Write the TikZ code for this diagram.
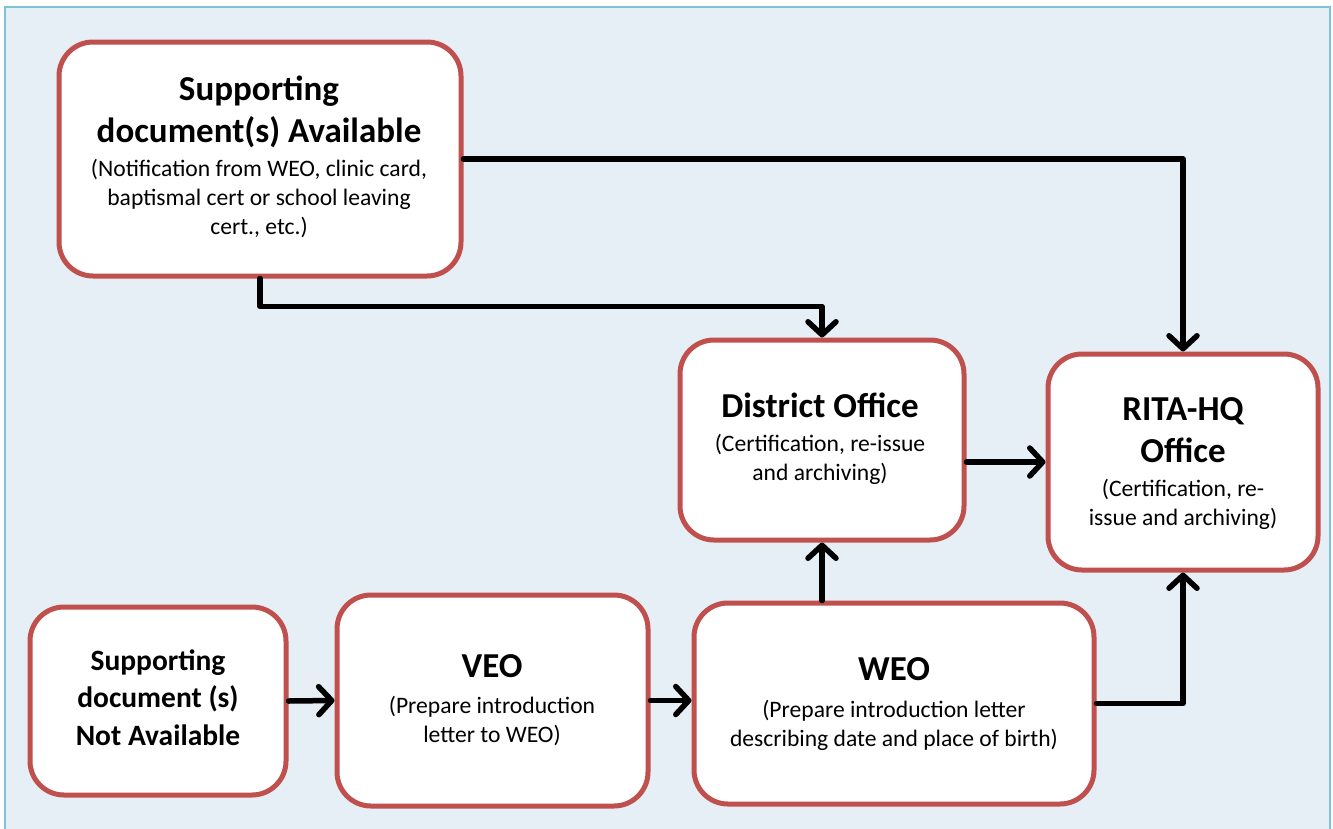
\documentclass[tikz,border=0pt]{standalone}
\usepackage{fontspec}
\setmainfont{Carlito}
\usetikzlibrary{arrows.meta}
\definecolor{bgblue}{HTML}{E6EFF5}
\definecolor{framecyan}{HTML}{7CC4D6}
\definecolor{boxred}{HTML}{C0504D}
\tikzset{
  box/.style={draw=boxred, line width=5pt, fill=white, rounded corners=34pt, minimum width=#1},
  box/.default=100pt,
  ttl/.style={align=center, font=\fontsize{35}{42}\selectfont\bfseries, inner sep=0pt},
  ttlsmall/.style={align=center, font=\fontsize{29.5}{37.5}\selectfont\bfseries, inner sep=0pt},
  sub/.style={align=center, font=\fontsize{23.6}{29}\selectfont, inner sep=0pt},
  conn/.style={draw=black, line width=5.5pt, line cap=round, line join=round,
    -{Straight Barb[length=13pt,width=28pt,line cap=round,line join=round]}}
}
\begin{document}
\begin{tikzpicture}[x=1pt,y=-1pt]
\useasboundingbox (0,0) rectangle (1333,828);
\fill[white] (0,0) rectangle (1333,828);
\begin{scope}
\clip (0,0) rectangle (1333,828);
\fill[bgblue] (5,7) rectangle (1330,840);
\draw[framecyan, line width=2pt] (5,7) rectangle (1330,840);
\end{scope}

% boxes
\node[box=402pt, minimum height=234pt] (b1) at (260,159) {};
\node[box=284pt, minimum height=200pt] (dist) at (822,440) {};
\node[box=270pt, minimum height=216pt] (rita) at (1183,462) {};
\node[box=256pt, minimum height=188pt] (na) at (158,701) {};
\node[box=311pt, minimum height=211pt] (veo) at (492.5,700.5) {};
\node[box=400pt, minimum height=201pt] (weo) at (894,703.5) {};

% texts
\node[ttl] (b1t) at (259,111.5) {Supporting\\document(s) Available};
\node[sub] (b1s) at (259,199) {(Notification from WEO, clinic card,\\baptismal cert or school leaving\\cert., etc.)};
\node[ttl] (distt) at (820,405) {District Office};
\node[sub] (dists) at (820,459) {(Certification, re-issue\\and archiving)};
\node[ttl] (ritat) at (1183,430.5) {RITA-HQ\\Office};
\node[sub] (ritas) at (1183,504.5) {(Certification, re-\\issue and archiving)};
\node[ttlsmall] (nat) at (158,697.5) {Supporting\\document (s)\\Not Available};
\node[ttl] (veot) at (492,666) {VEO};
\node[sub] (veos) at (492,720.5) {(Prepare introduction\\letter to WEO)};
\node[ttl] (weot) at (894,669) {WEO};
\node[sub] (weos) at (894,725.5) {(Prepare introduction letter\\describing date and place of birth)};

% connectors
\draw[conn] (b1.east) -| (rita.north);
\draw[conn] (b1.south) -- ++(0,28) -| (dist.north);
\draw[conn] (dist.east |- rita.west) -- (rita.west);
\draw[conn] (weo.north -| dist.south) -- (dist.south);
\draw[conn] (weo.east) -| (rita.south);
\draw[conn] (na.east) -- (veo.west);
\draw[conn] (veo.east) -- (veo.east -| weo.west);
\end{tikzpicture}
\end{document}
